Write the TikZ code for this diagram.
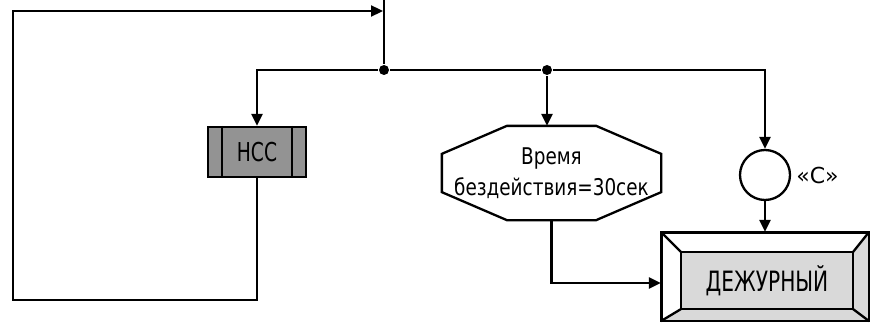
\documentclass[tikz,border=0pt]{standalone}
\usepackage{fontspec}
\setmainfont{DejaVu Sans}
\newfontfamily\techfont[FakeStretch=0.72]{DejaVu Sans}
\newfontfamily\widefont[FakeStretch=0.8]{DejaVu Sans}
\usetikzlibrary{arrows.meta,positioning,calc}

\begin{document}
\begin{tikzpicture}[x=1pt, y=-1pt, line width=2.3pt,
    arr/.style={-{Triangle[length=12pt,width=11pt]}},
    dot/.style={circle, fill=black, inner sep=0pt, minimum size=10pt},
    txt/.style={font=\techfont\fontsize{#1}{#1}\selectfont},
  ]
    \useasboundingbox (0,0) rectangle (870,329);

    % Branch points
    \coordinate (top) at (384,0);
    \node[dot] (j1) at (384,70) {};
    \node[dot] (j2) at (547,70) {};
    \coordinate (back) at (384,11);

    % Subroutine block
    \node[draw, fill=gray!85, minimum width=98pt, minimum height=50pt,
          txt=26, inner sep=0pt] (hcc) at (257,152) {НСС};
    \draw ([xshift=15pt]hcc.north west) -- ([xshift=15pt]hcc.south west);
    \draw ([xshift=-15pt]hcc.north east) -- ([xshift=-15pt]hcc.south east);

    % Timeout condition
    \node[minimum width=217pt, minimum height=92pt, inner sep=0pt, align=center,
          font=\widefont\fontsize{23}{23}\selectfont] (idle) at (551.5,173)
          {Время\\[8pt]бездействия=30сек};
    \draw ($(idle.north west)+(65,0)$) -- ($(idle.north east)+(-65,0)$)
        -- ($(idle.north east)+(0,28)$) -- ($(idle.south east)+(0,-28)$)
        -- ($(idle.south east)+(-65,0)$) -- ($(idle.south west)+(65,0)$)
        -- ($(idle.south west)+(0,-28)$) -- ($(idle.north west)+(0,28)$) -- cycle;

    % Signal
    \node[draw, circle, minimum size=50pt, inner sep=0pt] (sig) at (765,175) {};
    \node[right=4pt of sig, font=\fontsize{22}{22}\selectfont, inner sep=0pt] (siglbl) {«С»};

    % Duty state
    \node[draw, minimum width=206pt, minimum height=87pt] (duty) at (765,276.5) {};
    \node[minimum width=170pt, minimum height=55pt, inner sep=0pt] (dutyin) at (767,280.5) {};
    \fill[gray!30] (duty.north east) -- (dutyin.north east) -- (dutyin.south east)
        -- (dutyin.south west) -- (duty.south west) -- (duty.south east) -- cycle;
    \fill[gray!30] (dutyin.north west) rectangle (dutyin.south east);
    \draw (duty.north west) -- (dutyin.north west);
    \draw (duty.north east) -- (dutyin.north east);
    \draw (duty.south west) -- (dutyin.south west);
    \draw (duty.south east) -- (dutyin.south east);
    \draw (dutyin.north west) rectangle (dutyin.south east);
    \draw (duty.north west) rectangle (duty.south east);
    \node[txt=28, inner sep=0pt] at (dutyin) {ДЕЖУРНЫЙ};

    % Connectors
    \draw (top) -- (j1) -- (j2);
    \draw[arr] (j1) -| (hcc.north);
    \draw[arr] (j2) -- (idle.north -| j2);
    \draw[arr] (j2) -| (sig.north);
    \draw[arr] (sig.south) -- (duty.north);
    \draw[arr] (idle.south) |- ([yshift=-6.5pt]duty.west);
    \draw[arr] (hcc.south) |- (13,300) |- ([xshift=-1pt]back);
\end{tikzpicture}
\end{document}
